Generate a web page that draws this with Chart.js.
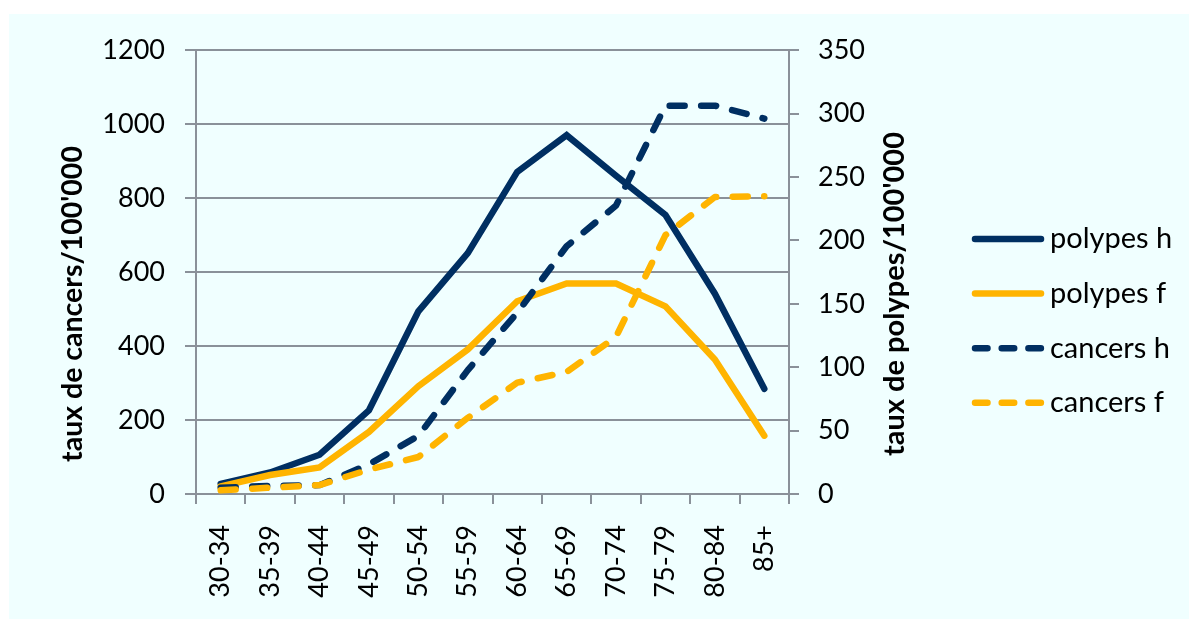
<!DOCTYPE html>
<html>
<head>
<meta charset="utf-8">
<script src="https://cdn.jsdelivr.net/npm/chart.js@4"></script>
<style>
  html, body { margin: 0; padding: 0; background: #ffffff; }
  #wrap { position: absolute; left: 9px; top: 14px; width: 1180px; height: 605px; background: #F0FFFF; }
  canvas { display: block; }
</style>
</head>
<body>
<div id="wrap"><canvas id="chart" width="1180" height="605"></canvas></div>
<script>
// Age groups
const ageGroups = ['30-34', '35-39', '40-44', '45-49', '50-54', '55-59', '60-64', '65-69', '70-74', '75-79', '80-84', '85+'];

// Cancer rates per 100'000 (left axis)
const cancersH = [17, 22, 24, 80, 157, 335, 490, 670, 780, 1050, 1050, 1015];
const cancersF = [10, 17, 24, 66, 100, 206, 301, 330, 425, 700, 803, 805];

// Polyp rates per 100'000 (right axis)
const polypesH = [8, 17, 31, 66, 144, 190, 254, 283, 251, 220, 158, 83];
const polypesF = [6, 15, 21, 49, 85, 114, 152, 166, 166, 148, 106, 46];

// Axis ranges and tick steps
const leftMax = 1200, leftStep = 200;
const rightMax = 350, rightStep = 50;

const seriesNames = ['polypes h', 'polypes f', 'cancers h', 'cancers f'];
const leftTitle = "taux de cancers/100'000";
const rightTitle = "taux de polypes/100'000";

const NAVY = '#002F62';
const GOLD = '#FFB400';
const AXIS = '#8A9199';
const FONT = 'Lato, "Open Sans", sans-serif';
const LINE_W = 6.5;
const DASH = [15, 16.5];
const LEGEND_DASH = [12.5, 14.2];

// Rotated axis titles, both reading bottom-to-top
const axisTitles = {
  id: 'axisTitles',
  afterDraw(chart) {
    const ctx = chart.ctx;
    ctx.save();
    ctx.fillStyle = '#000';
    ctx.textAlign = 'center';
    ctx.textBaseline = 'middle';
    const put = (text, x, y, size) => {
      ctx.save();
      ctx.font = 'bold ' + size + 'px ' + FONT;
      ctx.translate(x, y);
      ctx.rotate(-Math.PI / 2);
      ctx.fillText(text, 0, 0);
      ctx.restore();
    };
    put(leftTitle, 64, 290, 28.5);
    put(rightTitle, 886, 280, 29);
    ctx.restore();
  }
};

// Legend on the right, built from the dataset styles
const sideLegend = {
  id: 'sideLegend',
  afterDraw(chart) {
    const ctx = chart.ctx;
    const x0 = 966, x1 = 1032, tx = 1041, y0 = 225, dy = 54.6;
    ctx.save();
    chart.data.datasets.forEach((ds, i) => {
      const y = y0 + i * dy;
      ctx.beginPath();
      ctx.strokeStyle = ds.borderColor;
      ctx.lineWidth = ds.borderWidth;
      ctx.lineCap = 'round';
      ctx.setLineDash(ds.borderDash && ds.borderDash.length ? LEGEND_DASH : []);
      ctx.moveTo(x0, y);
      ctx.lineTo(x1, y);
      ctx.stroke();
      ctx.setLineDash([]);
      ctx.fillStyle = '#000';
      ctx.font = '29px ' + FONT;
      ctx.textAlign = 'left';
      ctx.textBaseline = 'middle';
      ctx.fillText(ds.label, tx, y);
    });
    ctx.restore();
  }
};

const lineStyle = (label, data, color, axis, dashed, order) => ({
  label, data, yAxisID: axis, order,
  borderColor: color, backgroundColor: color,
  borderWidth: LINE_W,
  borderDash: dashed ? DASH : [],
  borderCapStyle: 'round',
  borderJoinStyle: dashed ? 'round' : 'miter',
  pointRadius: 0, pointHoverRadius: 0,
  tension: 0, fill: false
});

const tickFont = { family: FONT, size: 27 };
const plainNumber = v => String(v);

new Chart(document.getElementById('chart'), {
  type: 'line',
  data: {
    labels: ageGroups,
    datasets: [
      lineStyle(seriesNames[0], polypesH, NAVY, 'y1', false, 4),
      lineStyle(seriesNames[1], polypesF, GOLD, 'y1', false, 3),
      lineStyle(seriesNames[2], cancersH, NAVY, 'y', true, 2),
      lineStyle(seriesNames[3], cancersF, GOLD, 'y', true, 1)
    ]
  },
  options: {
    responsive: false,
    animation: false,
    devicePixelRatio: 1,
    layout: { padding: { top: 33, left: 0, right: 0, bottom: 0 } },
    plugins: { legend: { display: false }, tooltip: { enabled: false } },
    scales: {
      x: {
        type: 'category',
        offset: true,
        grid: { display: true, drawOnChartArea: false, drawTicks: true, tickLength: 10, color: AXIS, lineWidth: 2, offset: true },
        border: { display: true, color: AXIS, width: 2 },
        ticks: { autoSkip: false, minRotation: 90, maxRotation: 90, padding: 21, color: '#000', font: tickFont },
        afterFit(s) { s.height = 125; }
      },
      y: {
        position: 'left',
        min: 0, max: leftMax,
        grid: { color: AXIS, lineWidth: 2, drawTicks: true, tickLength: 11 },
        border: { display: true, color: AXIS, width: 2 },
        ticks: { stepSize: leftStep, padding: 20, color: '#000', font: tickFont, callback: plainNumber },
        afterFit(s) { s.width = 187; }
      },
      y1: {
        position: 'right',
        min: 0, max: rightMax,
        grid: { drawOnChartArea: false, color: AXIS, lineWidth: 2, drawTicks: true, tickLength: 10 },
        border: { display: true, color: AXIS, width: 2 },
        ticks: { stepSize: rightStep, padding: 19, color: '#000', font: tickFont, callback: plainNumber },
        afterFit(s) { s.width = 400; }
      }
    }
  },
  plugins: [axisTitles, sideLegend]
});
</script>
</body>
</html>
